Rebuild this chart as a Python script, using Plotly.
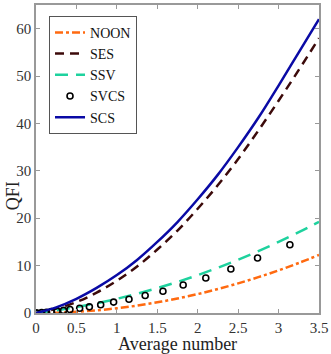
import plotly.graph_objects as go

# average photon number grid for the curves
avg_n = [0, 0.25, 0.5, 0.75, 1, 1.25, 1.5, 1.75, 2, 2.25, 2.5, 2.75, 3, 3.25, 3.5]

noon = [0, 0.06, 0.25, 0.56, 1.0, 1.56, 2.25, 3.06, 4.0, 5.06, 6.25, 7.56, 9.0, 10.56, 12.25]
ses = [0, 0.9, 2.3, 4.3, 6.8, 9.8, 13.4, 17.4, 22.0, 27.0, 32.5, 38.5, 44.8, 51.3, 58.0]
ssv = [0, 0.56, 1.25, 2.06, 3.0, 4.06, 5.25, 6.56, 8.0, 9.56, 11.25, 13.06, 15.0, 17.06, 19.25]
scs = [0, 1.2, 3.0, 5.3, 8.0, 11.2, 15.0, 19.2, 24.0, 29.2, 35.0, 41.2, 48.0, 55.0, 62.0]

# SVCS is only known at discrete points
svcs_n = [0.0, 0.01, 0.07, 0.13, 0.19, 0.26, 0.34, 0.42, 0.54, 0.66, 0.80, 0.96,
          1.15, 1.35, 1.57, 1.82, 2.10, 2.41, 2.74, 3.14]
svcs = [0.0, 0.01, 0.08, 0.17, 0.28, 0.40, 0.55, 0.75, 1.0, 1.3, 1.75, 2.3,
        2.9, 3.7, 4.6, 5.9, 7.4, 9.3, 11.6, 14.4]

serif = "Liberation Serif"

fig = go.Figure()
fig.add_trace(go.Scatter(x=avg_n, y=noon, name="NOON", mode="lines", line_shape="spline",
                         line=dict(color="#ff6a10", width=2.5, dash="8px,3px,3px,3px")))
fig.add_trace(go.Scatter(x=avg_n, y=ses, name="SES", mode="lines", line_shape="spline",
                         line=dict(color="#3c0a0a", width=2.5, dash="9px,6px")))
fig.add_trace(go.Scatter(x=avg_n, y=ssv, name="SSV", mode="lines", line_shape="spline",
                         line=dict(color="#1ed29e", width=2.5, dash="13px,8px")))
fig.add_trace(go.Scatter(x=svcs_n, y=svcs, name="SVCS", mode="markers",
                         marker=dict(symbol="circle-open", size=6, color="black",
                                     line=dict(width=1.6, color="black"))))
fig.add_trace(go.Scatter(x=avg_n, y=scs, name="SCS", mode="lines", line_shape="spline",
                         line=dict(color="#0a0aa5", width=2.5)))

axis_style = dict(showline=True, linecolor="#999999", linewidth=1.5, mirror="ticks",
                  ticks="inside", ticklen=4, tickcolor="#999999", showgrid=False,
                  zeroline=False, tickfont=dict(family=serif, size=15, color="#333333"))

fig.update_layout(
    width=331, height=354,
    margin=dict(l=36, r=12, t=3, b=41),
    font=dict(family=serif),
    paper_bgcolor="white", plot_bgcolor="white",
    xaxis=dict(range=[0, 3.5], dtick=0.5, **axis_style),
    yaxis=dict(range=[0, 65], dtick=10, **axis_style),
    legend=dict(x=0.046, y=0.965, xanchor="left", yanchor="top",
                bgcolor="white", bordercolor="#555555", borderwidth=1,
                font=dict(family=serif, size=14, color="#111111"),
                tracegroupgap=0, itemwidth=30),
    showlegend=True,
)

fig.add_annotation(text="Average number", xref="paper", yref="paper", x=0.5, y=-0.063,
                   showarrow=False, yanchor="top", font=dict(family=serif, size=18, color="#222222"))
fig.add_annotation(text="QFI", xref="paper", yref="paper", x=-0.123, y=0.38, textangle=-90,
                   showarrow=False, xanchor="left", font=dict(family=serif, size=18, color="#222222"))

# drop the default page margin so the figure sits at the window's corner
fig.write_html("out.html", config={"displayModeBar": False},
               post_script="document.body.style.margin='0';")
